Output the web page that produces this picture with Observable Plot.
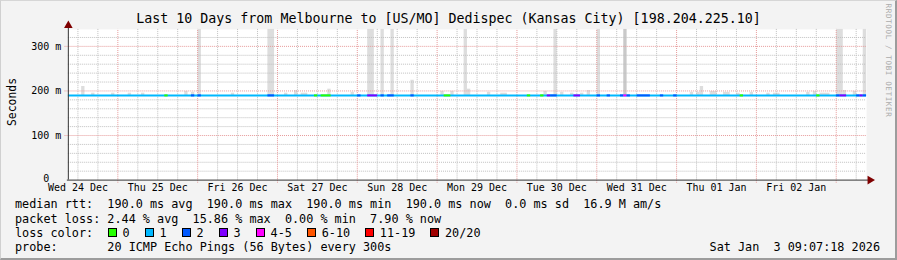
<!DOCTYPE html>
<html><head><meta charset="utf-8">
<script src="https://cdn.jsdelivr.net/npm/d3@7"></script>
<script src="https://cdn.jsdelivr.net/npm/@observablehq/plot@0.6"></script>
<style>
html,body{margin:0;padding:0;background:#f3f3f3;}
#frame{position:relative;width:897px;height:260px;background:#f3f3f3;overflow:hidden;font-family:"DejaVu Sans Mono",monospace;color:#000;box-sizing:border-box;border-top:1px solid #d6d6d6;border-left:1px solid #d0d0d0;border-right:2px solid #9c9c9c;border-bottom:2px solid #9c9c9c;}
.abs{position:absolute;white-space:pre;}
#title{left:0;width:895px;text-align:center;top:10.3px;font-size:13.3px;line-height:16px;}
#chart{left:-1px;top:-1px;}
.row{left:14px;font-size:11.8px;line-height:14px;}
#ylabel{font-size:11.4px;line-height:14px;transform-origin:center;}
#credit{font-size:7.6px;letter-spacing:0.6px;color:#ababab;line-height:9px;}
.sw{position:absolute;width:7px;height:7px;border:1px solid #000;}
</style></head><body>
<div id="frame">
  <div id="title" class="abs"></div>
  <div id="chart" class="abs"></div>
  <div id="ylabel" class="abs">Seconds</div>
  <div id="credit" class="abs">RRDTOOL / TOBI OETIKER</div>
  <div id="r1" class="abs row"></div>
  <div id="r2" class="abs row"></div>
  <div id="r3" class="abs row"></div>
  <div id="r4" class="abs row"></div>
  <div id="stamp" class="abs row"></div>
</div>
<script>
// ---- data ----
const titleText = "Last 10 Days from Melbourne to [US/MO] Dedispec (Kansas City) [198.204.225.10]";
const startUTC = Date.UTC(2025, 11, 24, 9, 7, 18);   // Wed 24 Dec 09:07:18
const spanHours = 240;
const yMax = 338;
const yTicks = [0, 100, 200, 300];
const medianRtt = 190;
const dayLabels = ["Wed 24 Dec","Thu 25 Dec","Fri 26 Dec","Sat 27 Dec","Sun 28 Dec","Mon 29 Dec","Tue 30 Dec","Wed 31 Dec","Thu 01 Jan","Fri 02 Jan"];
// smoke: [fromHour, toHour, top ms]
const smokeBars = [[4,5,210],[7,8,195],[13,14,195],[18,19,195],[22,23,195],[35,36,199],[37,38,197],[39,40,338],[49,50,195],[60,62,338],[65,66,195],[68,69,201],[70,72,195],[78,79,204],[85,86,197],[90,92,338],[94,95,338],[97,98,338],[103,104,224],[112,113,199],[115,116,199],[119,120,338],[120,121,204],[126,127,197],[130,132,195],[143,144,199],[146,147,338],[148,149,197],[151,152,195],[154,155,195],[156,157,201],[159,160,338],[187,188,197],[189,190,197],[190,191,210],[193,195,199],[197,199,197],[201,202,195],[205,206,197],[210,211,195],[212,214,195],[222,223,197],[224,225,199],[226,229,195],[231,233,338],[233,234,201],[236,237,199],[239,240,338]];
const darkSmokeBars = [[167,168,338]];
// loss segments on the median line: [fromHour, toHour, loss class index]
const lossSegments = [[29,30,0],[37,38,2],[39,40,2],[60,62,2],[74,75,0],[76,79,0],[87,88,2],[90,93,3],[94,95,2],[96,98,2],[103,104,2],[113,115,0],[138,139,0],[142,143,0],[144,145,3],[145,147,2],[152,154,3],[159,160,2],[162,163,2],[166,167,2],[167,168,4],[168,169,2],[171,175,2],[178,179,2],[182,183,2],[202,203,0],[225,226,0],[231,232,2],[232,234,3],[237,238,2],[238,239,3],[239,240,2]];
const lossLabels = ["0","1","2","3","4-5","6-10","11-19","20/20"];
const lossColors = ["#26ff00","#00b8ff","#0059ff","#7e00ff","#ff00ff","#ff5500","#ff0000","#a00000"];
const rttStats = [["avg","190.0"],["max","190.0"],["min","190.0"],["now","190.0"]];
const rttSd = "0.0", amps = "16.9";
const lossStats = [["avg","2.44"],["max","15.86"],["min","0.00"],["now","7.90"]];
const probeText = "20 ICMP Echo Pings (56 Bytes) every 300s";
const stampText = "Sat Jan  3 09:07:18 2026";

// ---- helpers ----
const H = 3600e3;
const t = h => new Date(startUTC + h * H);
const noonTicks = dayLabels.map((_, i) => new Date(Date.UTC(2025, 11, 24 + i, 12)));
const midnights = d3.utcDay.range(t(0), t(spanHours));
const sixHours = d3.utcHour.every(6).range(t(0), t(spanHours)).filter(d => d.getUTCHours() !== 0);
const minorY = d3.range(20, yMax, 20).filter(v => v % 100 !== 0);
const majorY = yTicks.filter(v => v > 0);
const gridGray = "#c0c0c0", gridRed = "#e69a9a";

const chart = Plot.plot({
  width: 897, height: 196,
  marginLeft: 68, marginRight: 29, marginTop: 29, marginBottom: 16,
  x: {type: "utc", domain: [t(0), t(spanHours)]},
  y: {domain: [0, yMax]},
  color: {type: "identity"},
  style: {background: "transparent", fontFamily: "'DejaVu Sans Mono', monospace", fontSize: "10px", color: "#000", overflow: "visible"},
  marks: [
    Plot.frame({fill: "#ffffff", stroke: null}),
    Plot.rect(smokeBars, {x1: d => t(d[0]), x2: d => t(d[1]), y1: () => medianRtt - 1, y2: d => d[2], fill: "#dddddd"}),
    Plot.rect(darkSmokeBars, {x1: d => t(d[0]), x2: d => t(d[1]), y1: () => medianRtt - 1, y2: d => d[2], fill: "#c9c9c9"}),
    Plot.ruleX(sixHours, {stroke: gridGray, strokeDasharray: "1,1"}),
    Plot.ruleY(minorY, {stroke: gridGray, strokeDasharray: "1,1"}),
    Plot.ruleX(midnights, {y1: () => -7, y2: () => yMax, stroke: gridRed, strokeDasharray: "1,1"}),
    Plot.ruleY(majorY, {x1: () => t(-1), x2: () => t(spanHours), stroke: gridRed, strokeDasharray: "1,1"}),
    Plot.ruleY([medianRtt], {x1: () => t(0), x2: () => t(spanHours), stroke: lossColors[1], strokeWidth: 2}),
    Plot.ruleY(lossSegments, {y: () => medianRtt, x1: d => t(d[0]), x2: d => t(d[1]), stroke: d => lossColors[d[2]], strokeWidth: 2}),
    // axes
    Plot.ruleX([t(0)], {y1: () => 0, y2: () => yMax + 9, stroke: "#333333"}),
    Plot.ruleY([0], {x1: () => t(-0.3), x2: () => t(spanHours + 1), stroke: "#333333"}),
    Plot.dot([t(0)], {x: d => d, y: () => yMax + 9, symbol: "triangle", r: 3.2, fill: "#7f0000", stroke: null}),
    Plot.dot([t(spanHours)], {x: d => d, y: () => 0, dx: 3.5, symbol: "triangle", rotate: 90, r: 3.2, fill: "#7f0000", stroke: null}),
    Plot.axisX(noonTicks, {tickSize: 0, tickPadding: 4, tickFormat: (d, i) => dayLabels[i], fill: "#000"}),
    Plot.axisY(majorY, {tickSize: 0, tickPadding: 7, tickFormat: d => d + " m", fill: "#000"}),
    Plot.axisY([0], {tickSize: 0, tickPadding: 7, dy: -1.5, tickFormat: () => "0\u00a0\u00a0", fill: "#000"})
  ]
});
document.getElementById("chart").appendChild(chart);
document.getElementById("title").textContent = titleText;

const yl = document.getElementById("ylabel");
yl.style.left = (10.5 - 25) + "px"; yl.style.top = (101 - 7) + "px"; yl.style.width = "50px"; yl.style.textAlign = "center";
yl.style.transform = "rotate(-90deg)";
const cr = document.getElementById("credit");
cr.style.width = "120px"; cr.style.textAlign = "center";
cr.style.left = (887 - 60) + "px"; cr.style.top = (59 - 4.5) + "px"; cr.style.transform = "rotate(90deg)";

const rowTops = [196.3, 210.6, 224.8, 239];
const r1 = "median rtt:  " + rttStats.map(([k, v]) => `${v} ms ${k}`).join("  ") + `  ${rttSd} ms sd  ${amps} M am/s`;
const r2 = "packet loss: " + lossStats.map(([k, v]) => `${v} % ${k}`).join("  ");
["r1","r2","r3","r4"].forEach((id, i) => document.getElementById(id).style.top = rowTops[i] + "px");
document.getElementById("r1").textContent = r1;
document.getElementById("r2").textContent = r2;
document.getElementById("r3").textContent = "loss color:";
document.getElementById("r4").textContent = "probe:       " + probeText;
const st = document.getElementById("stamp");
st.textContent = stampText; st.style.left = "auto"; st.style.right = (895 - 880) + "px"; st.style.top = rowTops[3] + "px";

const frame = document.getElementById("frame");
const cw = 7.03;
let x = 107;
lossLabels.forEach((lab, i) => {
  const s = document.createElement("div");
  s.className = "sw"; s.style.left = x + "px"; s.style.top = "227.3px"; s.style.background = lossColors[i];
  frame.appendChild(s);
  const l = document.createElement("div");
  l.className = "abs row"; l.style.left = (x + 14.5) + "px"; l.style.top = rowTops[2] + "px"; l.textContent = lab;
  frame.appendChild(l);
  x += 15 + lab.length * cw + 15;
});
</script>
</body></html>
